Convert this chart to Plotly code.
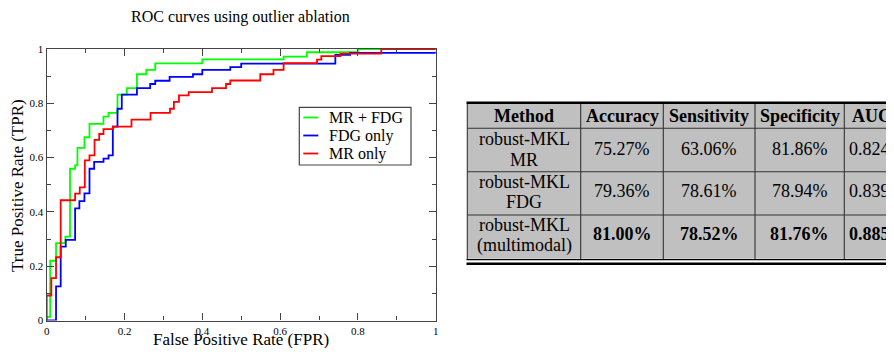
import plotly.graph_objects as go

# ---------------- data ----------------
title_text = "ROC curves using outlier ablation"
x_title = "False Positive Rate (FPR)"
y_title = "True Positive Rate (TPR)"

series_names = ["MR + FDG", "FDG only", "MR only"]
series_colors = ["#00ff00", "#0000ff", "#ff0000"]

fpr_mr_fdg = [0, 0, 0.009, 0.024, 0.048, 0.060, 0.073, 0.079, 0.097, 0.110, 0.146, 0.159,
              0.182, 0.206, 0.232, 0.256, 0.279, 0.400, 0.609, 0.669, 0.800, 1.0]
tpr_mr_fdg = [0, 0.013, 0.220, 0.285, 0.309, 0.559, 0.571, 0.636, 0.675, 0.724, 0.751, 0.765,
              0.832, 0.856, 0.907, 0.923, 0.947, 0.962, 0.972, 0.988, 1.0, 1.0]

fpr_fdg = [0, 0.024, 0.036, 0.049, 0.073, 0.084, 0.097, 0.110, 0.122, 0.146, 0.159, 0.170,
           0.182, 0.193, 0.232, 0.266, 0.279, 0.316, 0.376, 0.400, 0.472, 0.500, 0.742, 0.780, 1.0]
tpr_fdg = [0, 0.126, 0.272, 0.297, 0.413, 0.440, 0.468, 0.559, 0.584, 0.596, 0.608, 0.714,
           0.780, 0.832, 0.856, 0.871, 0.883, 0.897, 0.907, 0.923, 0.933, 0.946, 0.978, 0.986, 0.990]

fpr_mr = [0, 0, 0.012, 0.024, 0.036, 0.073, 0.085, 0.098, 0.110, 0.123, 0.135, 0.146, 0.170,
          0.218, 0.267, 0.317, 0.327, 0.340, 0.365, 0.425, 0.461, 0.472, 0.549, 0.583, 0.609,
          0.695, 0.706, 0.755, 0.860, 1.0]
tpr_mr = [0, 0.092, 0.156, 0.233, 0.443, 0.467, 0.490, 0.590, 0.608, 0.665, 0.687, 0.705, 0.714,
          0.740, 0.765, 0.780, 0.805, 0.829, 0.841, 0.856, 0.871, 0.884, 0.907, 0.923, 0.948,
          0.961, 0.974, 0.983, 1.0, 1.0]

tick_vals = [0, 0.2, 0.4, 0.6, 0.8, 1]
tick_text = ["0", "0.2", "0.4", "0.6", "0.8", "1"]

table_header = ["Method", "Accuracy", "Sensitivity", "Specificity", "AUC"]
table_method_line1 = ["robust-MKL", "robust-MKL", "robust-MKL"]
table_method_line2 = ["MR", "FDG", "(multimodal)"]
table_accuracy = ["75.27%", "79.36%", "81.00%"]
table_sensitivity = ["63.06%", "78.61%", "78.52%"]
table_specificity = ["81.86%", "78.94%", "81.76%"]
table_auc = ["0.8248", "0.839", "0.885"]

# ---------------- layout helpers ----------------
# the page body has an 8px margin, so the figure is sized to fit the window without scrollbars
OFF = 8
W, H = 886, 340
SERIF = "Liberation Serif, Times New Roman, serif"


def px(xp):
    """window pixel x -> paper fraction"""
    return (xp - OFF) / W


def py(yp):
    """window pixel y -> paper fraction"""
    return 1 - (yp - OFF) / H


fig = go.Figure()
xs = [fpr_mr_fdg, fpr_fdg, fpr_mr]
ys = [tpr_mr_fdg, tpr_fdg, tpr_mr]
for name, color, x, y in zip(series_names, series_colors, xs, ys):
    fig.add_trace(go.Scatter(x=x, y=y, mode="lines", name=name,
                             line=dict(color=color, width=1.8, shape="hv"),
                             showlegend=False, hoverinfo="skip"))

axis_color = "#444444"
common_axis = dict(range=[0, 1], showgrid=False, zeroline=False, showline=True,
                   linecolor=axis_color, linewidth=1.4, mirror="ticks",
                   ticks="inside", ticklen=7, tickwidth=1.2, tickcolor=axis_color,
                   tickmode="array", tickvals=tick_vals, ticktext=tick_text,
                   tickfont=dict(family=SERIF, size=11, color="black"),
                   minor=dict(ticks="inside", ticklen=4, tickwidth=1, tickcolor=axis_color,
                              dtick=0.1, tick0=0, showgrid=False),
                   automargin=False, fixedrange=True)

fig.update_layout(
    width=W, height=H, autosize=False,
    margin=dict(l=0, r=0, t=0, b=0, pad=0, autoexpand=False),
    paper_bgcolor="white", plot_bgcolor="white",
    xaxis=dict(domain=[px(46.7), px(435.7)], **common_axis),
    yaxis=dict(domain=[py(320.5), py(49)], **common_axis),
    showlegend=False,
)

annotations = []
shapes = []

# titles
annotations.append(dict(text=title_text, x=px(240.8), y=py(17), xref="paper", yref="paper",
                        showarrow=False, xanchor="center", yanchor="middle",
                        font=dict(family=SERIF, size=16, color="black")))
annotations.append(dict(text=x_title, x=px(241), y=py(339.3), xref="paper", yref="paper",
                        showarrow=False, xanchor="center", yanchor="middle",
                        font=dict(family=SERIF, size=17, color="black")))
annotations.append(dict(text=y_title, x=px(17), y=py(186), xref="paper", yref="paper",
                        showarrow=False, xanchor="center", yanchor="middle", textangle=-90,
                        font=dict(family=SERIF, size=17, color="black")))

# manual legend
shapes.append(dict(type="rect", xref="paper", yref="paper",
                   x0=px(299.3), x1=px(411), y0=py(107.3), y1=py(165),
                   line=dict(color=axis_color, width=1.2), fillcolor="white"))
legend_rows = [117.5, 135.5, 153.5]
for name, color, yy in zip(series_names, series_colors, legend_rows):
    shapes.append(dict(type="line", xref="paper", yref="paper",
                       x0=px(303.3), x1=px(318.3), y0=py(yy), y1=py(yy),
                       line=dict(color=color, width=1.8)))
    annotations.append(dict(text=name, x=px(326.5), y=py(yy + 0.5), xref="paper", yref="paper",
                            showarrow=False, xanchor="left", yanchor="middle",
                            font=dict(family=SERIF, size=16, color="black")))

# table
col_edges = [467.3, 580.7, 663.3, 755.0, 844.3, 899.0]
row_edges = [104.0, 128.3, 171.7, 215.0, 258.8]
gray = "#c0c0c0"
line_c = "#333333"
shapes.append(dict(type="rect", xref="paper", yref="paper",
                   x0=px(col_edges[0]), x1=px(col_edges[-1]), y0=py(row_edges[0]), y1=py(row_edges[-1]),
                   line=dict(width=0), fillcolor=gray, layer="below"))
# top rule
shapes.append(dict(type="line", xref="paper", yref="paper",
                   x0=px(466.5), x1=px(900), y0=py(102.8), y1=py(102.8),
                   line=dict(color="black", width=2.6)))
# row separators
for ry in row_edges[1:-1]:
    shapes.append(dict(type="line", xref="paper", yref="paper",
                       x0=px(col_edges[0]), x1=px(900), y0=py(ry), y1=py(ry),
                       line=dict(color=line_c, width=1.1)))
# vertical separators
for cx in col_edges[:-1]:
    shapes.append(dict(type="line", xref="paper", yref="paper",
                       x0=px(cx), x1=px(cx), y0=py(row_edges[0]), y1=py(259.5),
                       line=dict(color=line_c, width=1.1)))
# bottom double rule
shapes.append(dict(type="line", xref="paper", yref="paper",
                   x0=px(466.5), x1=px(900), y0=py(259.6), y1=py(259.6),
                   line=dict(color="black", width=1.3)))
shapes.append(dict(type="line", xref="paper", yref="paper",
                   x0=px(466.5), x1=px(900), y0=py(263.8), y1=py(263.8),
                   line=dict(color="black", width=2.6)))

col_centers = [(col_edges[i] + col_edges[i + 1]) / 2 for i in range(5)]
col_centers[4] = 871.7


def cell(text, xc, yc, bold=False, anchor="center"):
    t = "<b>%s</b>" % text if bold else text
    annotations.append(dict(text=t, x=px(xc), y=py(yc), xref="paper", yref="paper",
                            showarrow=False, xanchor=anchor, yanchor="middle",
                            font=dict(family=SERIF, size=18, color="black")))


for i, h in enumerate(table_header):
    cell(h, col_centers[i], 116.5, bold=True)

value_rows = [149.0, 190.5, 233.5]
line1_rows = [139.0, 182.0, 225.5]
line2_rows = [160.0, 202.0, 245.5]
for r in range(3):
    bold = (r == 2)
    cell(table_method_line1[r], col_centers[0], line1_rows[r])
    cell(table_method_line2[r], col_centers[0], line2_rows[r])
    cell(table_accuracy[r], col_centers[1], value_rows[r], bold)
    cell(table_sensitivity[r], col_centers[2], value_rows[r], bold)
    cell(table_specificity[r], col_centers[3], value_rows[r], bold)
    cell(table_auc[r], 846.8, value_rows[r], bold, anchor="left")

fig.update_layout(annotations=annotations, shapes=shapes)
fig.write_html("out.html")
